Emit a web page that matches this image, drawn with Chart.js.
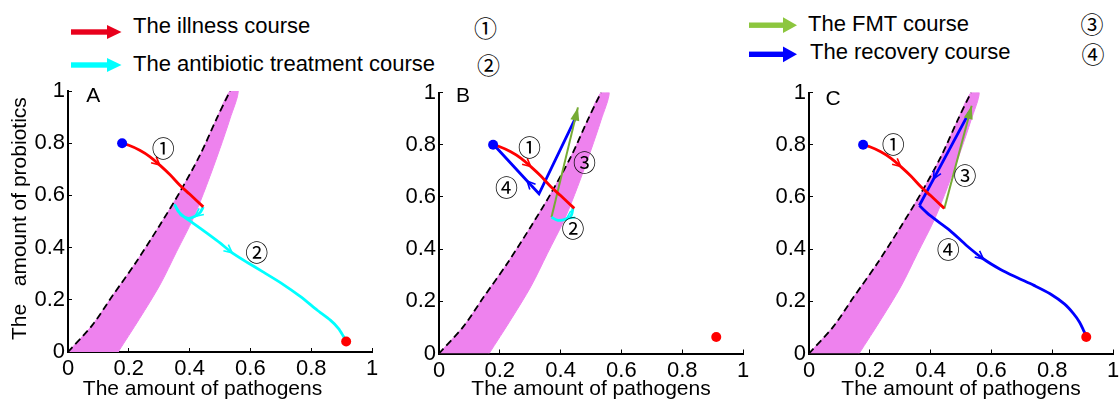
<!DOCTYPE html>
<html>
<head>
<meta charset="utf-8">
<script src="https://cdn.jsdelivr.net/npm/chart.js@4.4.1/dist/chart.umd.min.js"></script>
<style>
  body { margin: 0; width: 1120px; height: 400px; overflow: hidden; background: #fff; position: relative;
         font-family: "Liberation Sans", Arial, sans-serif; }
  canvas { position: absolute; }
  .lg { position: absolute; font-size: 22px; line-height: 22px; white-space: nowrap; color: #000; }
  .num { position: absolute; font-family: "Noto Sans CJK JP", sans-serif; font-size: 23px; line-height: 23px;
         transform: translate(-50%, -50%); color: #000; }
</style>
</head>
<body>
<svg width="1120" height="80" style="position:absolute;left:0;top:0">
  <rect x="71" y="29.3" width="37" height="5.4" fill="#e8001c"/><polygon points="107,25 121.5,32 107,39" fill="#e8001c"/>
  <rect x="71" y="62.3" width="37" height="5.4" fill="#00ffff"/><polygon points="107,58 121.5,65 107,72" fill="#00ffff"/>
  <rect x="749" y="22.5" width="35" height="5.4" fill="#8cc63e"/><polygon points="783,17.3 797,25.2 783,33.1" fill="#8cc63e"/>
  <rect x="749" y="51.6" width="35" height="5.4" fill="#0000ff"/><polygon points="783,46.4 797,54.3 783,62.2" fill="#0000ff"/>
</svg>
<div class="lg" style="left:133px;top:15.4px">The illness course</div>
<div class="lg" style="left:133px;top:52.8px">The antibiotic treatment course</div>
<div class="lg" style="left:808px;top:12.8px">The FMT course</div>
<div class="lg" style="left:810px;top:41px">The recovery course</div>
<div class="num" style="left:485.5px;top:26.8px">①</div>
<div class="num" style="left:488.5px;top:64.3px">②</div>
<div class="num" style="left:1092px;top:23.2px">③</div>
<div class="num" style="left:1093px;top:52.9px">④</div>

<canvas id="panelA" width="390" height="330" style="left:0;top:70px"></canvas>
<canvas id="panelB" width="380" height="330" style="left:380px;top:70px"></canvas>
<canvas id="panelC" width="370" height="330" style="left:750px;top:70px"></canvas>

<script>
const xTicks = [0, 0.2, 0.4, 0.6, 0.8, 1];
const xTickLabels = ['0', '0.2', '0.4', '0.6', '0.8', '1'];
const yTicks = [0, 0.2, 0.4, 0.6, 0.8, 1];
const yTickLabels = ['0', '0.2', '0.4', '0.6', '0.8', '1'];

// dashed boundary and right edge of the pink band
const boundaryX = [0, 0.08, 0.148, 0.225, 0.302, 0.368, 0.434, 0.489, 0.533];
const boundaryY = [0, 0.103, 0.218, 0.346, 0.486, 0.613, 0.754, 0.894, 1];
const edgeX = [0.165, 0.236, 0.302, 0.357, 0.412, 0.456, 0.5, 0.533, 0.56];
const edgeY = [0, 0.129, 0.256, 0.384, 0.512, 0.639, 0.78, 0.894, 1];

// illness course (same in all panels)
const illnessX = [0.176, 0.2, 0.236, 0.27, 0.302, 0.335, 0.368, 0.4, 0.445];
const illnessY = [0.799, 0.792, 0.773, 0.748, 0.716, 0.68, 0.639, 0.605, 0.556];

// panel A antibiotic course
const antibioticAX = [0.445, 0.435, 0.418, 0.395, 0.372, 0.352, 0.362, 0.385, 0.41, 0.44, 0.467, 0.5, 0.54, 0.59, 0.64, 0.7, 0.765, 0.82, 0.863, 0.89, 0.906, 0.915];
const antibioticAY = [0.556, 0.535, 0.52, 0.512, 0.525, 0.562, 0.54, 0.515, 0.495, 0.47, 0.447, 0.418, 0.38, 0.343, 0.308, 0.265, 0.212, 0.16, 0.122, 0.09, 0.06, 0.042];

// panel B
const antibioticBX = [0.441, 0.435, 0.419, 0.391, 0.37];
const antibioticBY = [0.56, 0.529, 0.516, 0.51, 0.522];
const fmtBX = [0.37, 0.457];
const fmtBY = [0.522, 0.943];
const recoveryBX = [0.45, 0.329, 0.29, 0.18];
const recoveryBY = [0.905, 0.612, 0.661, 0.8];

// panel C
const fmtCX = [0.445, 0.535];
const fmtCY = [0.555, 0.949];
const recoveryCX = [0.527, 0.41, 0.363];
const recoveryCY = [0.924, 0.669, 0.567];
const recoveryC2X = [0.363, 0.398, 0.464, 0.52, 0.574, 0.63, 0.684, 0.74, 0.793, 0.84, 0.87, 0.89, 0.903, 0.914];
const recoveryC2Y = [0.567, 0.529, 0.471, 0.412, 0.362, 0.322, 0.291, 0.261, 0.229, 0.19, 0.153, 0.12, 0.089, 0.063];

const startPoint = [0.178, 0.8];
const endPointA = [0.915, 0.04];
const endPointBC = [0.912, 0.063];

const marksA = [['A', 0.083, 0.98, 'sans'], ['①', 0.313, 0.78], ['②', 0.621, 0.384]];
const marksB = [['B', 0.079, 0.987, 'sans'], ['①', 0.298, 0.79], ['②', 0.441, 0.478], ['③', 0.479, 0.733], ['④', 0.222, 0.637]];
const marksC = [['C', 0.079, 0.975, 'sans'], ['①', 0.277, 0.803], ['③', 0.513, 0.682], ['④', 0.458, 0.401]];

Chart.defaults.font.family = '"Liberation Sans", Arial, sans-serif';
Chart.defaults.color = '#000';

function pts(xs, ys) {
    return xs.map((x, i) => ({ x: x, y: ys[i] }));
}

function band() {
    return {
        data: pts(boundaryX.concat(edgeX.slice().reverse()), boundaryY.concat(edgeY.slice().reverse())),
        showLine: true, fill: 'shape', backgroundColor: '#ee82ee', borderColor: '#ee82ee',
        borderWidth: 1, pointRadius: 0, tension: 0.3, order: 10
    };
}

function dashed() {
    return {
        data: pts(boundaryX, boundaryY), showLine: true, borderColor: '#000', borderWidth: 1.8,
        borderDash: [7, 4], pointRadius: 0, fill: false, tension: 0.3, order: 9
    };
}

function course(xs, ys, color, extra) {
    return Object.assign({
        data: pts(xs, ys), showLine: true, borderColor: color, borderWidth: 2.8,
        pointRadius: 0, fill: false, order: 5, tension: 0.3
    }, extra || {});
}

function dot(p, color) {
    return { data: [{ x: p[0], y: p[1] }], pointRadius: 5, pointBackgroundColor: color, pointBorderWidth: 0, order: 1 };
}

function drawHead(ctx, a, b, len, filled) {
    const ang = Math.atan2(b.y - a.y, b.x - a.x);
    const w = filled ? 0.33 : 0.45;
    ctx.beginPath();
    ctx.moveTo(b.x - len * Math.cos(ang - w), b.y - len * Math.sin(ang - w));
    ctx.lineTo(b.x, b.y);
    ctx.lineTo(b.x - len * Math.cos(ang + w), b.y - len * Math.sin(ang + w));
    if (filled) { ctx.closePath(); ctx.fill(); } else { ctx.stroke(); }
}

const arrowPlugin = {
    id: 'arrows',
    afterDatasetsDraw(chart) {
        const ctx = chart.ctx;
        chart.data.datasets.forEach((ds, i) => {
            const p = chart.getDatasetMeta(i).data;
            ctx.save();
            ctx.strokeStyle = ds.borderColor;
            ctx.fillStyle = ds.borderColor;
            ctx.lineWidth = 1.6;
            (ds.arrowAt || []).forEach(k => drawHead(ctx, p[k - 1], p[k], 9, false));
            if (ds.arrowEnd) drawHead(ctx, p[p.length - 2], p[p.length - 1], 14, true);
            ctx.restore();
        });
    }
};

const marksPlugin = {
    id: 'marks',
    afterDraw(chart, args, opts) {
        const ctx = chart.ctx;
        const xs = chart.scales.x, ys = chart.scales.y;
        ctx.save();
        ctx.fillStyle = '#000';
        ctx.textAlign = 'center';
        ctx.textBaseline = 'middle';
        (opts.items || []).forEach(m => {
            ctx.font = m[3] ? '21px "Liberation Sans", Arial, sans-serif' : '23px "Noto Sans CJK JP", sans-serif';
            ctx.fillText(m[0], xs.getPixelForValue(m[1]), ys.getPixelForValue(m[2]));
        });
        ctx.restore();
    }
};

// short inward ticks like the original axes
const tickGrid = { display: true, drawOnChartArea: false, drawTicks: true, tickLength: -4, color: '#000', lineWidth: 1 };

function makePanel(id, datasets, marks, box) {
    new Chart(document.getElementById(id), {
        type: 'scatter',
        data: { datasets: datasets },
        plugins: [arrowPlugin, marksPlugin],
        options: {
            responsive: false,
            animation: false,
            events: [],
            layout: { padding: { left: 0, top: box.top, right: box.right, bottom: 0 } },
            plugins: { legend: { display: false }, tooltip: { enabled: false }, marks: { items: marks } },
            scales: {
                x: {
                    type: 'linear', min: 0, max: 1,
                    afterBuildTicks: s => { s.ticks = xTicks.map(v => ({ value: v })); },
                    afterFit: s => { s.height = box.xh; s.paddingLeft = 0; s.paddingRight = 0; s.paddingTop = 0; s.paddingBottom = 0; },
                    ticks: { callback: (v, i) => xTickLabels[i], font: { size: 22 }, padding: 8, maxRotation: 0, autoSkip: false },
                    grid: tickGrid,
                    border: { display: true, color: '#000', width: 2 },
                    title: { display: true, text: box.xtitle, font: { size: 21, lineHeight: 1 }, padding: { top: 0, bottom: 0 } }
                },
                y: {
                    type: 'linear', min: 0, max: 1,
                    afterBuildTicks: s => { s.ticks = yTicks.map(v => ({ value: v })); },
                    afterFit: s => { s.width = box.yw; s.paddingLeft = 0; s.paddingRight = 0; s.paddingTop = 0; s.paddingBottom = 0; },
                    ticks: { callback: (v, i) => yTickLabels[i], font: { size: 22 }, padding: 7, autoSkip: false },
                    grid: tickGrid,
                    border: { display: true, color: '#000', width: 2 },
                    title: { display: box.ytitle, text: ' The   amount of probiotics', font: { size: 21, lineHeight: 1 }, padding: { top: 9.5, bottom: 0 } }
                }
            }
        }
    });
}

makePanel('panelA', [
    band(), dashed(),
    course(illnessX, illnessY, '#ff0000', { arrowAt: [4] }),
    course(antibioticAX, antibioticAY, '#00ffff', { arrowAt: [2, 12], tension: 0.2 }),
    dot(startPoint, '#0000ff'), dot(endPointA, '#ff0000')
], marksA, { top: 21, right: 18, xh: 48, yw: 68, ytitle: true, xtitle: 'The amount of pathogens      ' });

makePanel('panelB', [
    band(), dashed(),
    course(illnessX, illnessY, '#ff0000', { arrowAt: [4] }),
    course(antibioticBX, antibioticBY, '#00ffff', { arrowAt: [2] }),
    course(fmtBX, fmtBY, '#76ab34', { borderWidth: 2, tension: 0, arrowEnd: true }),
    course(recoveryBX, recoveryBY, '#0000ff', { tension: 0, arrowAt: [2] }),
    dot(startPoint, '#0000ff'), dot(endPointBC, '#ff0000')
], marksB, { top: 22.5, right: 17, xh: 46.5, yw: 59, ytitle: false, xtitle: 'The amount of pathogens' });

makePanel('panelC', [
    band(), dashed(),
    course(illnessX, illnessY, '#ff0000', { arrowAt: [4] }),
    course(fmtCX, fmtCY, '#76ab34', { borderWidth: 2, tension: 0, arrowEnd: true }),
    course(recoveryCX, recoveryCY, '#0000ff', { tension: 0, arrowAt: [1] }),
    course(recoveryC2X, recoveryC2Y, '#0000ff', { arrowAt: [4] }),
    dot(startPoint, '#0000ff'), dot(endPointBC, '#ff0000')
], marksC, { top: 22.5, right: 7, xh: 46.5, yw: 59, ytitle: false, xtitle: 'The amount of pathogens' });
</script>
</body>
</html>
